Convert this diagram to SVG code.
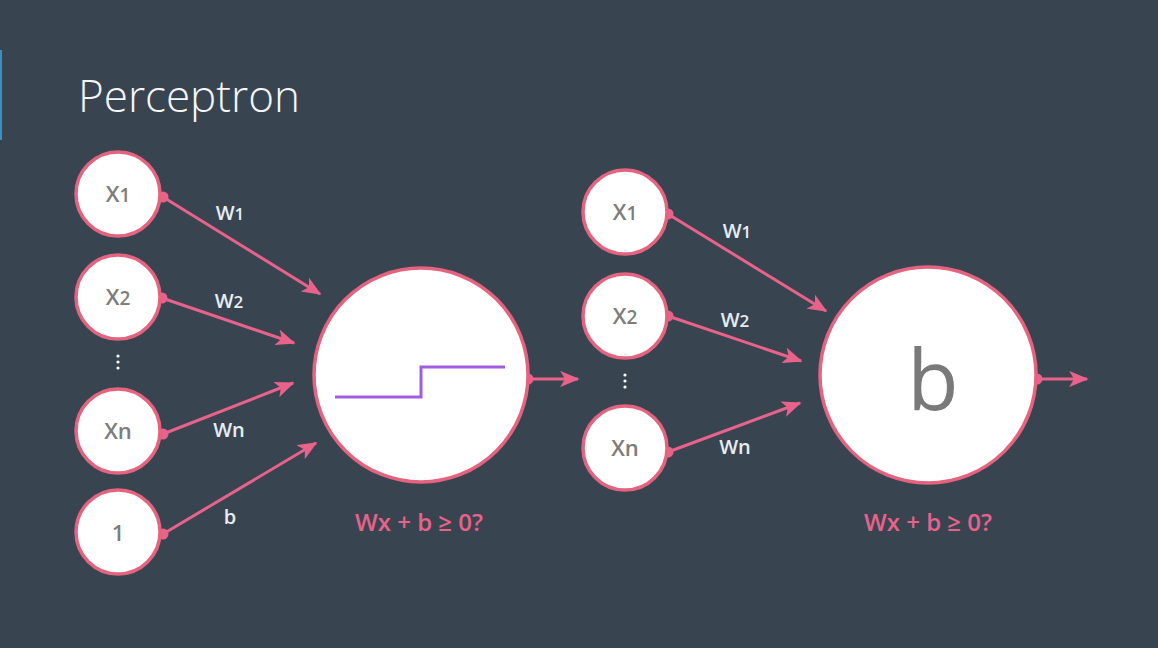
<svg xmlns="http://www.w3.org/2000/svg" width="1158" height="648" viewBox="0 0 1158 648">
  <style>
    .bg { fill: #394451; }
    .node { fill: #ffffff; stroke: #e5637f; stroke-width: 3.5; }
    .ntxt { font-family: "Open Sans", "Liberation Sans", sans-serif; font-weight: 600; font-size: 22px; fill: #7d7d7d; text-anchor: middle; }
    .edge { stroke: #e8628a; stroke-width: 3; fill: none; marker-end: url(#arrow); }
    .dot { fill: #e8628a; }
    .wlbl { font-family: "Open Sans", "Liberation Sans", sans-serif; font-weight: 600; font-size: 20px; fill: #e6edf4; text-anchor: middle; }
    .eq { font-family: "Open Sans", "Liberation Sans", sans-serif; font-weight: 600; font-size: 24px; fill: #e8628a; text-anchor: middle; }
    .ell { fill: #ffffff; }
  </style>
  <defs>
    <marker id="arrow" viewBox="0 0 12 10" refX="11" refY="5" markerWidth="6.5" markerHeight="5.5" markerUnits="strokeWidth" orient="auto">
      <path d="M0,0 L12,5 L0,10 L3,5 z" fill="#e8628a"/>
    </marker>
  </defs>

  <rect class="bg" x="0" y="0" width="1158" height="648"/>
  <rect x="0" y="50" width="2" height="90" fill="#3a8fc0"/>

  <text x="78" y="112" font-family="Open Sans, Liberation Sans, sans-serif" font-weight="300" font-size="44" fill="#f4f6f8">Perceptron</text>

  <!-- connectors -->
  <g id="connectors">
    <line class="edge" x1="163" y1="197" x2="320" y2="294"/>
    <line class="edge" x1="162" y1="298" x2="294" y2="343"/>
    <line class="edge" x1="163" y1="434" x2="293" y2="383"/>
    <line class="edge" x1="163" y1="534" x2="316" y2="443"/>
    <line class="edge" x1="528" y1="379" x2="578" y2="379"/>
    <line class="edge" x1="668" y1="214" x2="826" y2="311"/>
    <line class="edge" x1="668" y1="316" x2="801" y2="361"/>
    <line class="edge" x1="668" y1="452" x2="800" y2="403"/>
    <line class="edge" x1="1037" y1="379" x2="1087" y2="379"/>
    <circle class="dot" cx="163" cy="197" r="5.5"/>
    <circle class="dot" cx="162" cy="298" r="5.5"/>
    <circle class="dot" cx="163" cy="434" r="5.5"/>
    <circle class="dot" cx="163" cy="534" r="5.5"/>
    <circle class="dot" cx="528" cy="379" r="5.5"/>
    <circle class="dot" cx="668" cy="214" r="5.5"/>
    <circle class="dot" cx="668" cy="316" r="5.5"/>
    <circle class="dot" cx="668" cy="452" r="5.5"/>
    <circle class="dot" cx="1037" cy="379" r="5.5"/>
    <text class="wlbl" x="230" y="220">W<tspan font-size="17">1</tspan></text>
    <text class="wlbl" x="229" y="308">W<tspan font-size="17">2</tspan></text>
    <text class="wlbl" x="229" y="437">Wn</text>
    <text class="wlbl" x="230" y="524">b</text>
    <text class="wlbl" x="737" y="238">W<tspan font-size="17">1</tspan></text>
    <text class="wlbl" x="735" y="327">W<tspan font-size="17">2</tspan></text>
    <text class="wlbl" x="735" y="454">Wn</text>
  </g>

  <!-- left perceptron inputs -->
  <g id="in-x1">
    <circle class="node" cx="118" cy="194" r="42"/>
    <text class="ntxt" x="118" y="202">X<tspan font-size="19">1</tspan></text>
  </g>
  <g id="in-x2">
    <circle class="node" cx="118" cy="297" r="42"/>
    <text class="ntxt" x="118" y="305">X<tspan font-size="19">2</tspan></text>
  </g>
  <g id="in-dots-1">
    <circle class="ell" cx="118" cy="356" r="1.6"/>
    <circle class="ell" cx="118" cy="362" r="1.6"/>
    <circle class="ell" cx="118" cy="368" r="1.6"/>
  </g>
  <g id="in-xn">
    <circle class="node" cx="118" cy="431" r="42"/>
    <text class="ntxt" x="118" y="439">Xn</text>
  </g>
  <g id="in-bias">
    <circle class="node" cx="118" cy="532" r="42"/>
    <text class="ntxt" x="118" y="541">1</text>
  </g>

  <!-- left perceptron unit with step function -->
  <g id="unit-step">
    <circle class="node" cx="421" cy="375" r="107"/>
    <polyline points="335,397 421,397 421,367 505,367" fill="none" stroke="#a05de0" stroke-width="3"/>
    <text class="eq" x="419" y="531">Wx + b ≥ 0?</text>
  </g>

  <!-- right perceptron inputs -->
  <g id="in2-x1">
    <circle class="node" cx="625" cy="212" r="42"/>
    <text class="ntxt" x="625" y="220">X<tspan font-size="19">1</tspan></text>
  </g>
  <g id="in2-x2">
    <circle class="node" cx="625" cy="316" r="42"/>
    <text class="ntxt" x="625" y="324">X<tspan font-size="19">2</tspan></text>
  </g>
  <g id="in-dots-2">
    <circle class="ell" cx="625" cy="375" r="1.6"/>
    <circle class="ell" cx="625" cy="381" r="1.6"/>
    <circle class="ell" cx="625" cy="387" r="1.6"/>
  </g>
  <g id="in2-xn">
    <circle class="node" cx="625" cy="448" r="42"/>
    <text class="ntxt" x="625" y="456">Xn</text>
  </g>

  <!-- right perceptron unit with bias -->
  <g id="unit-bias">
    <circle class="node" cx="928" cy="375" r="108"/>
    <text x="933" y="410" font-family="Open Sans, Liberation Sans, sans-serif" font-size="84" fill="#7a7a7a" text-anchor="middle">b</text>
    <text class="eq" x="928" y="531">Wx + b ≥ 0?</text>
  </g>
</svg>
